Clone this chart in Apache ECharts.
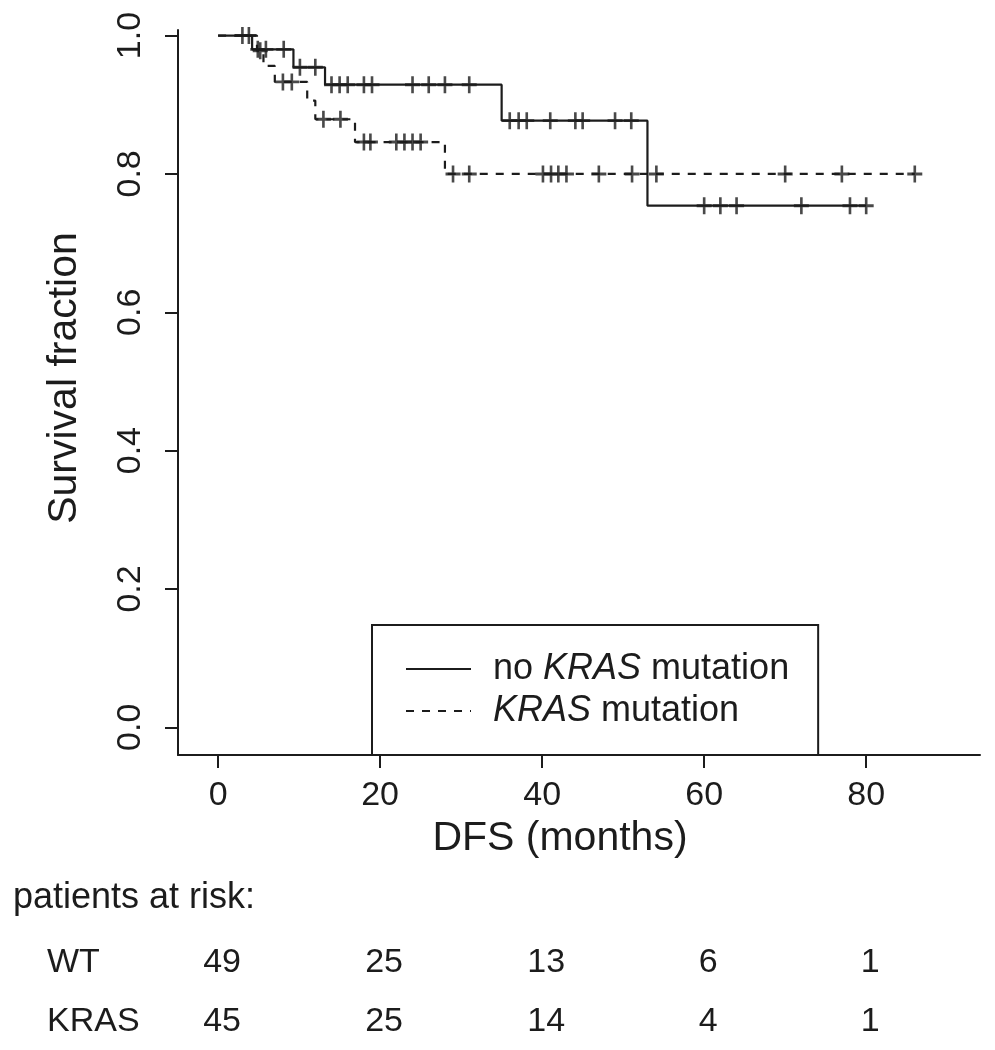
<!DOCTYPE html>
<html>
<head>
<meta charset="utf-8">
<script src="https://cdn.jsdelivr.net/npm/echarts@6/dist/echarts.min.js"></script>
<style>
html,body{margin:0;padding:0;background:#fff;}
#chart{width:995px;height:1050px;}
</style>
</head>
<body>
<div id="chart"></div>
<script>
// ---- data ----
const wtTimes = [0, 4.2, 9.3, 13.2, 35.0, 53.0, 80];
const wtSurv  = [1.0, 0.980, 0.954, 0.929, 0.877, 0.754, 0.754];
const wtCensorTimes = [3.0, 4.9, 5.9, 8.1, 10.1, 12.0, 14, 15, 16, 18, 19, 24, 26, 28, 31,
                       36, 37.1, 38.1, 41, 44.1, 45, 49, 51, 60, 62, 64, 72, 78, 80];

const krasTimes = [0, 4.8, 5.6, 7.0, 11.0, 12.0, 16.9, 28.0, 86];
const krasSurv  = [1.0, 0.978, 0.956, 0.933, 0.906, 0.879, 0.846, 0.800, 0.800];
const krasCensorTimes = [3.8, 5.2, 8.0, 9.1, 13.0, 15.1, 18, 18.8, 22, 23, 24, 25,
                         29, 31, 40.1, 41.1, 42, 43, 47, 51.1, 54.1, 70, 77, 86];

const xTicks = [0, 20, 40, 60, 80];
const yTicks = [0, 0.2, 0.4, 0.6, 0.8, 1.0];

const riskTimes = [0, 20, 40, 60, 80];
const riskWT = [49, 25, 13, 6, 1];
const riskKRAS = [45, 25, 14, 4, 1];
const riskRowLabels = ['WT', 'KRAS'];

const seriesNames = ['no KRAS mutation', 'KRAS mutation'];

// ---- helpers ----
function survAt(times, surv, t) {
  let v = surv[0];
  for (let i = 0; i < times.length; i++) { if (times[i] <= t) v = surv[i]; }
  return v;
}
const pairs = (xs, ys) => xs.map((x, i) => [x, ys[i]]);
const censorPts = (ct, times, surv) => ct.map(t => [t, survAt(times, surv, t)]);

const INK = '#1c1c1c';
const FONT = "'Liberation Sans', Arial, sans-serif";
const PLUS = 'path://M6.6,0h2.8v6.6h6.6v2.8h-6.6v6.6h-2.8v-6.6h-6.6v-2.8h6.6z';

const chart = echarts.init(document.getElementById('chart'), null, {renderer: 'canvas'});

function legendFmt(name) {
  if (name === 'no KRAS mutation') return '{s| }{n|no }{i|KRAS}{n| mutation}';
  return '{s| }{i|KRAS}{n| mutation}';
}

const LF = 36;
const option = {
  backgroundColor: '#fff',
  animation: false,
  textStyle: {fontFamily: FONT},
  grid: {left: 178, right: 15, top: 30, bottom: 295, containLabel: false},
  xAxis: {
    type: 'value', min: -4.95, max: 94.05,
    name: 'DFS (months)', nameLocation: 'middle', nameGap: 63,
    nameTextStyle: {fontSize: 41, color: INK, fontFamily: FONT, padding: [0, 38, 0, 0]},
    axisLine: {show: true, onZero: false, lineStyle: {color: INK, width: 2}},
    axisTick: {show: true, length: 13, lineStyle: {color: INK, width: 2}, customValues: xTicks},
    axisLabel: {show: true, margin: 24, fontSize: 34, color: INK, fontFamily: FONT, customValues: xTicks,
                formatter: v => String(v)},
    splitLine: {show: false}
  },
  yAxis: {
    type: 'value', min: -0.04, max: 1.008,
    name: 'Survival fraction', nameLocation: 'middle', nameGap: 93, nameRotate: 90,
    nameTextStyle: {fontSize: 41, color: INK, fontFamily: FONT, padding: [0, 0, 0, 29]},
    axisLine: {show: true, onZero: false, lineStyle: {color: INK, width: 2}},
    axisTick: {show: true, length: 13, lineStyle: {color: INK, width: 2}, customValues: yTicks},
    axisLabel: {show: true, margin: 30, rotate: 90, fontSize: 34, color: INK, fontFamily: FONT,
                customValues: yTicks, formatter: v => v.toFixed(1)},
    splitLine: {show: false}
  },
  legend: {
    data: seriesNames,
    orient: 'vertical',
    left: 372, top: 625,
    padding: [23, 29, 23, 33],
    itemGap: 0,
    itemWidth: 65, itemHeight: 20,
    borderColor: INK, borderWidth: 2,
    backgroundColor: '#fff',
    selectedMode: false,
    formatter: legendFmt,
    itemStyle: {opacity: 0},
    lineStyle: {width: 2, color: INK},
    textStyle: {
      fontSize: LF, color: INK, fontFamily: FONT, lineHeight: 42,
      rich: {
        s: {width: 17, fontSize: LF, lineHeight: 42},
        n: {fontSize: LF, color: INK, fontFamily: FONT, lineHeight: 42},
        i: {fontSize: LF, color: INK, fontFamily: FONT, fontStyle: 'italic', lineHeight: 42}
      }
    }
  },
  series: [
    {
      name: seriesNames[0], type: 'line', step: 'end', symbol: 'none', z: 3,
      data: pairs(wtTimes, wtSurv),
      lineStyle: {color: INK, width: 2.2, type: 'solid'},
      itemStyle: {color: INK}
    },
    {
      name: seriesNames[1], type: 'line', step: 'end', symbol: 'none', z: 3,
      data: pairs(krasTimes, krasSurv),
      lineStyle: {color: INK, width: 2.2, type: [8, 8]},
      itemStyle: {color: INK}
    },
    {
      name: 'wt censored', type: 'scatter', symbol: PLUS, symbolSize: [15, 17], z: 4,
      data: censorPts(wtCensorTimes, wtTimes, wtSurv),
      itemStyle: {color: INK}
    },
    {
      name: 'kras censored', type: 'scatter', symbol: PLUS, symbolSize: [15, 17], z: 4,
      data: censorPts(krasCensorTimes, krasTimes, krasSurv),
      itemStyle: {color: INK}
    }
  ]
};
chart.setOption(option);

// ---- patients-at-risk table (positioned on the x scale) ----
const g = [];
g.push({type: 'text', left: 13, top: 880,
        style: {text: 'patients at risk:', font: '36px ' + FONT, fill: INK}});
const rows = [riskWT, riskKRAS];
const rowTop = [946, 1005];
rows.forEach((row, r) => {
  g.push({type: 'text', left: 47, top: rowTop[r],
          style: {text: riskRowLabels[r], font: '34px ' + FONT, fill: INK}});
  row.forEach((n, i) => {
    const px = chart.convertToPixel({xAxisIndex: 0}, riskTimes[i]);
    g.push({type: 'text', x: px + 4, y: rowTop[r],
            style: {text: String(n), font: '34px ' + FONT, fill: INK, align: 'center', verticalAlign: 'top'}});
  });
});
chart.setOption({graphic: g});
</script>
</body>
</html>
